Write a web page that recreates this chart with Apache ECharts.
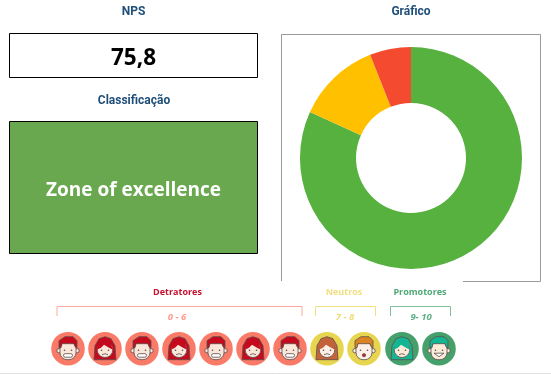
<!DOCTYPE html>
<html>
<head>
<meta charset="utf-8">
<style>
html, body { margin: 0; padding: 0; background: #fff; }
#main { width: 551px; height: 374px; }
</style>
<script src="https://cdn.jsdelivr.net/npm/echarts@6/dist/echarts.min.js"></script>
</head>
<body>
<div id="main"></div>
<script>
var categories = ['Promotores', 'Neutros', 'Detratores'];
var values = [81.8, 12.2, 6.0];
var sliceColors = ['#56B13F', '#FFC000', '#F44B30'];
var npsText = '75,8';
var zoneText = 'Zone of excellence';
var ranges = ['0 - 6', '7 - 8', '9- 10'];
// 0 = detrator, 1 = neutro, 2 = promotor
var faceGroups = [0, 0, 0, 0, 0, 0, 0, 1, 1, 2, 2];
var faceKinds = ['m', 'w', 'm', 'w', 'm', 'w', 'm', 'w', 'm', 'w', 'm'];
var faceX = [68, 105, 142, 179, 216, 253, 290, 327, 364, 402, 439];

var OUTLINE = '#5a4c4c';
var faceStyles = [
    {bg: '#F97A66', hair: '#C40A1C', skin: '#FBE6DA'},
    {bg: '#E8D54F', hair: '#C4623A', skin: '#FBEFE6'},
    {bg: '#46A06B', hair: '#13B692', skin: '#FBEBD8'}
];

function shape(type, s, fill, line) {
    return {
        type: type,
        shape: s,
        style: {fill: fill || 'none', stroke: line || null, lineWidth: line ? 0.8 : 0}
    };
}

function poly(points, fill, line, smooth) {
    return shape('polygon', {points: points, smooth: smooth || 0}, fill, line);
}

function face(cx, group, kind, idx) {
    var st = faceStyles[group];
    var hair = st.hair;
    if (group == 1 && kind == 'm') hair = '#DB8224';
    var kids = [shape('circle', {cx: 0, cy: 0, r: 16.8}, st.bg)];
    if (kind == 'w') {
        // cabelo atras, rosto, franja
        kids.push(poly([[-11, 11], [-10, -3], [-6, -10], [0, -12], [6, -10], [10, -3], [11, 11]], hair, OUTLINE));
        kids.push(shape('circle', {cx: 0, cy: 1, r: 7.8}, st.skin, OUTLINE));
        kids.push(poly([[-8, 1], [-7, -5], [-1, -8], [5, -7], [8, 1], [4, -1], [-1, -4], [-4, -1]], hair));
        kids.push(shape('polyline', {points: [[-3, 6], [0, 5], [3, 6]]}, null, OUTLINE));
    } else {
        kids.push(shape('circle', {cx: -9, cy: 2, r: 2.2}, st.skin, OUTLINE));
        kids.push(shape('circle', {cx: 9, cy: 2, r: 2.2}, st.skin, OUTLINE));
        kids.push(shape('rect', {x: -8, y: -7, width: 16, height: 18, r: 7}, st.skin, OUTLINE));
        kids.push(poly([[-9, -1], [-9, -8], [-3, -12], [5, -12], [9, -8], [9, -1], [7, -2], [6, -5], [-3, -5], [-6, -5], [-7, -1]], hair, OUTLINE));
        if (group == 0) {
            kids.push(shape('rect', {x: -4.5, y: 5, width: 9, height: 3.5, r: 1.7}, '#fff', OUTLINE));
        } else if (group == 1) {
            kids.push(shape('circle', {cx: 0, cy: 6.5, r: 1.6}, '#C8202C', OUTLINE));
        } else {
            kids.push(poly([[-5, 4.5], [0, 8], [5, 4.5]], '#fff', OUTLINE));
        }
    }
    kids.push(shape('circle', {cx: -3.5, cy: 1.5, r: 0.8}, OUTLINE));
    kids.push(shape('circle', {cx: 3.5, cy: 1.5, r: 0.8}, OUTLINE));
    return {type: 'group', id: 'face' + idx, x: cx, y: 348.7, children: kids};
}

function label(txt, x, y, font, color) {
    return {
        type: 'text',
        x: x,
        y: y,
        style: {text: txt, font: font, fill: color, align: 'center', verticalAlign: 'middle'}
    };
}

function bracket(x1, x2, color) {
    return {
        type: 'polyline',
        shape: {points: [[x1, 316], [x1, 306.5], [x2, 306.5], [x2, 316]]},
        style: {fill: 'none', stroke: color, lineWidth: 1}
    };
}

var titleFont = 'bold 12px Roboto';
var titleColor = '#1F4E79';
var groupFont = 'bold 9px "Open Sans"';
var rangeFont = 'italic bold 9.5px "Open Sans"';

var elements = [
    label('NPS', 133.5, 12, titleFont, titleColor),
    label('Classificação', 134, 100.5, titleFont, titleColor),
    label('Gráfico', 411, 12, titleFont, titleColor),
    {type: 'rect', shape: {x: 9.5, y: 33.5, width: 248, height: 44}, style: {fill: '#fff', stroke: '#000', lineWidth: 1}},
    label(npsText, 133.5, 58.5, 'bold 22.5px "Open Sans"', '#000'),
    {type: 'rect', shape: {x: 9.5, y: 121.5, width: 248, height: 132}, style: {fill: '#6AA84F', stroke: '#000', lineWidth: 1}},
    label(zoneText, 133.5, 190.5, 'bold 19px "Open Sans"', '#fff'),
    // moldura do grafico, a base fica aberta
    {type: 'polyline', z: -1, shape: {points: [[281.5, 281], [281.5, 34.5], [540.5, 34.5], [540.5, 281.5], [463, 281.5]]}, style: {fill: 'none', stroke: '#999', lineWidth: 1}},
    label(categories[2], 177.5, 292, groupFont, '#C8102E'),
    label(categories[1], 344, 292, groupFont, '#F0DE80'),
    label(categories[0], 420, 292, groupFont, '#4FA876'),
    bracket(57, 302, '#FFA89E'),
    bracket(315.5, 375.5, '#F0E080'),
    bracket(390.5, 450.5, '#7FC09A'),
    label(ranges[0], 177, 317, rangeFont, '#FF9A8E'),
    label(ranges[1], 345, 317, rangeFont, '#EFDB7A'),
    label(ranges[2], 421, 317, rangeFont, '#5FAE85'),
    {type: 'line', shape: {x1: 0, y1: 373.5, x2: 551, y2: 373.5}, style: {stroke: '#E2E2E2', lineWidth: 1}}
];
for (var i = 0; i < faceX.length; i++) {
    elements.push(face(faceX[i], faceGroups[i], faceKinds[i], i));
}

var pieData = [];
for (var j = 0; j < categories.length; j++) {
    pieData.push({name: categories[j], value: values[j], itemStyle: {color: sliceColors[j]}});
}

var myChart = echarts.init(document.getElementById('main'));
var option = {
    animation: false,
    backgroundColor: '#fff',
    graphic: {elements: elements},
    series: [{
        type: 'pie',
        center: [411, 158],
        radius: [55, 111],
        startAngle: 90,
        clockwise: true,
        label: {show: false},
        labelLine: {show: false},
        data: pieData
    }]
};
myChart.setOption(option);
</script>
</body>
</html>
